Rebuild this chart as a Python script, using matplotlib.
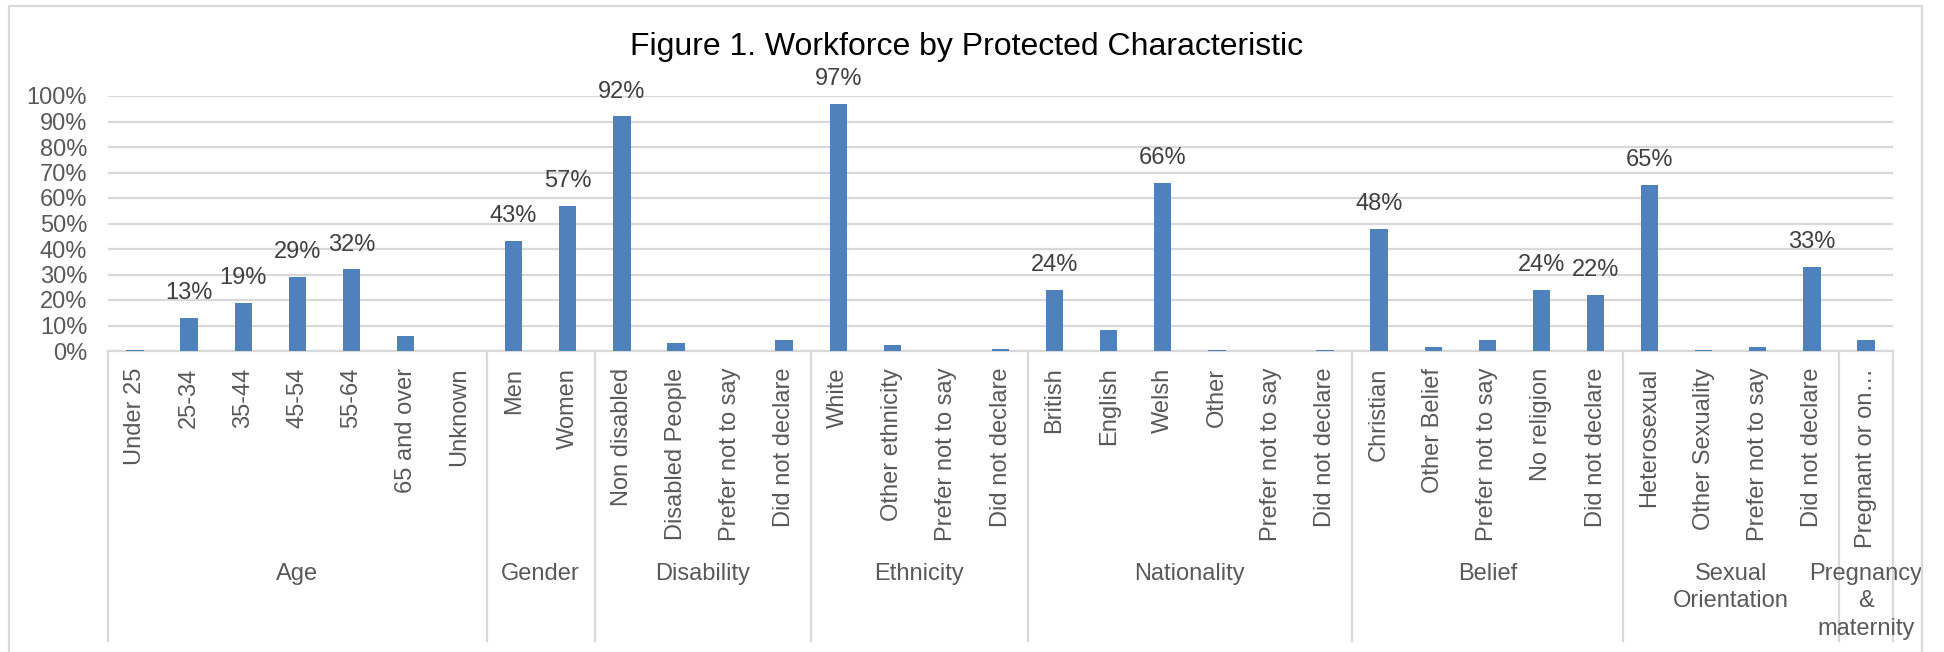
#!/usr/bin/env python3

import matplotlib
matplotlib.use('Agg')
import matplotlib.pyplot as plt
import matplotlib.transforms as mtransforms
from matplotlib.patches import Rectangle

# workforce shares (%) per protected characteristic
group_names = ['Age', 'Gender', 'Disability', 'Ethnicity', 'Nationality',
               'Belief', 'Sexual\nOrientation', 'Pregnancy\n&\nmaternity']
group_sizes = [7, 2, 4, 4, 6, 5, 4, 1]

categories = [
    'Under 25', '25-34', '35-44', '45-54', '55-64', '65 and over', 'Unknown',
    'Men', 'Women',
    'Non disabled', 'Disabled People', 'Prefer not to say', 'Did not declare',
    'White', 'Other ethnicity', 'Prefer not to say', 'Did not declare',
    'British', 'English', 'Welsh', 'Other', 'Prefer not to say', 'Did not declare',
    'Christian', 'Other Belief', 'Prefer not to say', 'No religion', 'Did not declare',
    'Heterosexual', 'Other Sexuality', 'Prefer not to say', 'Did not declare',
    'Pregnant or on\u2026',
]
values = [
    0.5, 13, 19, 29, 32, 5.7, 0,
    43, 57,
    92, 3.3, 0, 4.2,
    97, 2.3, 0, 0.7,
    24, 8.3, 66, 0.5, 0, 0.5,
    48, 1.6, 4.2, 24, 22,
    65, 0.5, 1.6, 33,
    4.2,
]

BAR = '#4f81bd'
GRID = '#d9d9d9'
TXT = '#595959'


def main():
    plt.rcParams['font.family'] = ['Liberation Sans', 'DejaVu Sans']

    fig = plt.figure(figsize=(19.44, 6.52), dpi=100)
    ax = fig.add_axes([108 / 1944, 301 / 652, (1893 - 108) / 1944, 255 / 652])

    x = list(range(len(categories)))
    ax.bar(x, [v / 100 for v in values], width=0.32, color=BAR, zorder=3)

    for xi, v in zip(x, values):
        if v >= 10:
            ax.annotate(f'{v:.0f}%', (xi, v / 100), xytext=(0, 10), textcoords='offset points',
                        ha='center', va='bottom', fontsize=17, color='#404040')

    ax.set_xlim(-0.5, len(categories) - 0.5)
    ax.set_ylim(0, 1)
    ax.set_yticks([i / 10 for i in range(11)])
    ax.set_yticklabels([f'{i * 10}%' for i in range(11)])
    ax.tick_params(axis='y', length=0, pad=15, labelsize=17, labelcolor=TXT)
    ax.grid(axis='y', color=GRID, linewidth=1.6, zorder=0)
    for side in ['top', 'right', 'left']:
        ax.spines[side].set_visible(False)
    ax.spines['bottom'].set_color(GRID)
    ax.spines['bottom'].set_linewidth(1.6)

    ax.set_xticks(x)
    ax.set_xticklabels(categories, rotation=90, fontsize=17, color=TXT)
    ax.tick_params(axis='x', length=0, pad=12)

    # group separators and group names below the category labels
    trans = mtransforms.blended_transform_factory(ax.transData, ax.transAxes)
    depth = -(641 - 351) / 255
    start = 0
    edges = [-0.5]
    for name, size in zip(group_names, group_sizes):
        end = start + size
        edges.append(end - 0.5)
        ax.text((start + end - 1) / 2, -(563 - 351) / 255, name, transform=trans,
                ha='center', va='top', fontsize=17, color=TXT, linespacing=1.32)
        start = end
    for e in edges:
        ax.plot([e, e], [0, depth], transform=trans, color=GRID, linewidth=1.6, clip_on=False)

    fig.text(967 / 1944, 1 - 47 / 652, 'Figure 1. Workforce by Protected Characteristic',
             ha='center', va='center', fontsize=23, color='black')

    fig.patches.append(Rectangle((9 / 1944, -0.05), (1922 - 9) / 1944, 1 - 6 / 652 + 0.05,
                                 transform=fig.transFigure, fill=False, edgecolor=GRID,
                                 linewidth=1.6))

    fig.savefig('out.png', dpi=100)


if __name__ == '__main__':
    main()
